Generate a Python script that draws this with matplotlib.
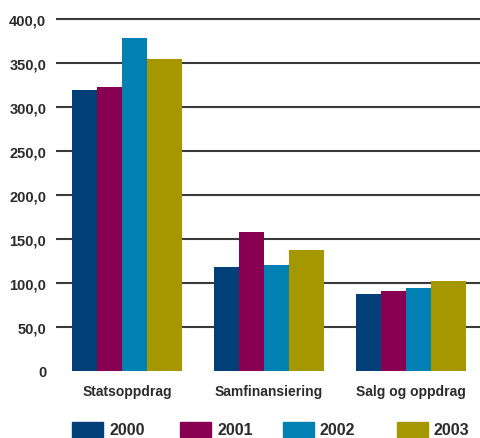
import numpy as np
import matplotlib.pyplot as plt
from matplotlib.patches import Rectangle

categories = ['Statsoppdrag', 'Samfinansiering', 'Salg og oppdrag']
years = ['2000', '2001', '2002', '2003']
v2000 = [320, 118, 87]
v2001 = [323, 158, 91]
v2002 = [379, 120, 94]
v2003 = [355, 137, 102]
yticks = [0, 50, 100, 150, 200, 250, 300, 350, 400]
ytick_labels = ['0', '50,0', '100,0', '150,0', '200,0', '250,0', '300,0', '350,0', '400,0']

colors = ['#003f78', '#880052', '#0080b3', '#a59700']
widths = [0.176, 0.176, 0.176, 0.246]
txt = '#2b2b2b'
sans = ['Liberation Sans', 'DejaVu Sans']

fig = plt.figure(figsize=(4.8, 4.39), dpi=100)
ax = fig.add_axes([56 / 480, 1 - 371.5 / 439, 1 - 56 / 480, (371.5 - 11.7) / 439])

for y in yticks[1:]:
    ax.axhline(y, color='#3a3a3a', lw=1.5, zorder=0)

x = np.arange(len(categories))
series = [v2000, v2001, v2002, v2003]
offset = 0
for vals, c, w in zip(series, colors, widths):
    ax.bar(x + offset, vals, width=w, color=c, align='edge', zorder=2)
    offset += w

ax.set_xlim(-16 / 142, (480 - 72) / 142)
ax.set_ylim(0, 410)
ax.set_yticks(yticks)
ax.set_yticklabels(ytick_labels, fontsize=10.5, fontweight='bold', color=txt, family=sans)
ax.tick_params(axis='y', length=0, pad=7)
ax.set_xticks(x + sum(widths) / 2)
ax.set_xticklabels(categories, fontsize=10, fontweight='bold', color=txt, family=sans)
ax.tick_params(axis='x', length=0, pad=10)
for s in ax.spines.values():
    s.set_visible(False)

# legend
lx = [72, 180, 283, 397]
for yr, c, px in zip(years, colors, lx):
    fig.add_artist(Rectangle((px / 480, 1 - 438 / 439), 31 / 480, 15 / 439,
                             transform=fig.transFigure, color=c))
    fig.text((px + 37) / 480, 1 - 431 / 439, yr, fontsize=11.5, fontweight='bold',
             color=txt, va='center', ha='left', family=sans)

fig.savefig('out.png', dpi=100)
